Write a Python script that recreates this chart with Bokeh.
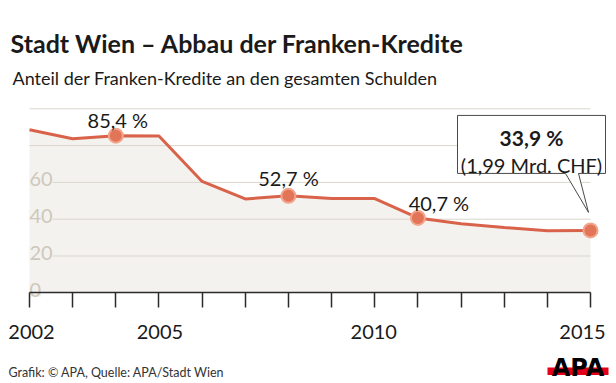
from bokeh.plotting import figure
from bokeh.models import Range1d, FixedTicker, LinearAxis
from bokeh.embed import file_html
from bokeh.resources import INLINE
from bokeh.core.properties import value

# ---------------- data ----------------
years = [2002, 2003, 2004, 2005, 2006, 2007, 2008, 2009, 2010, 2011, 2012, 2013, 2014, 2015]
share = [88.6, 83.7, 85.4, 85.2, 60.5, 51.0, 52.7, 51.2, 51.2, 40.7, 37.5, 35.5, 33.7, 33.9]
highlight_years = [2004, 2008, 2011]
highlight_labels = ["85,4 %", "52,7 %", "40,7 %"]
callout_year = 2015
callout_lines = ["33,9 %", "(1,99 Mrd. CHF)"]
grid_values = [20, 40, 60, 80, 100]
y_label_values = [0, 20, 40, 60]
x_label_years = [2002, 2005, 2010, 2015]
title_text = "Stadt Wien – Abbau der Franken-Kredite"
subtitle_text = "Anteil der Franken-Kredite an den gesamten Schulden"
footer_text = "Grafik: © APA, Quelle: APA/Stadt Wien"
logo_text = "APA"

# ---------------- layout / style ----------------
FONT = "Lato"
W, H = 616, 383
X0_PX, X1_PX = 29.0, 590.0          # pixel positions of first / last year
Y0_PX, Y100_PX = 292.3, 108.3       # pixel positions of 0 and 100
PX_X = (X1_PX - X0_PX) / (years[-1] - years[0])
PX_Y = (Y0_PX - Y100_PX) / 100.0


def X(px):
    return years[0] + (px - X0_PX) / PX_X


def Y(py):
    return (Y0_PX - py) / PX_Y


TEXT = "#1a1a1a"
LINE = "#d9634a"
AREA = "#f4f2ee"
GRID = "#dad6cc"
YLAB = "#cdc8bc"

val = dict(zip(years, share))

p = figure(width=W, height=H, x_range=Range1d(X(0), X(W)), y_range=Range1d(Y(H), Y(0)),
           output_backend="svg", toolbar_location=None, min_border=0,
           x_axis_location=None, y_axis_location=None, outline_line_color=None,
           background_fill_color="white", border_fill_color="white")
p.grid.visible = False

# header
p.text(x=[X(10)], y=[Y(42)], text=[title_text], text_font=value(FONT), text_font_style="bold",
       text_font_size="25px", text_color=TEXT, text_baseline="alphabetic", text_align="left")
p.text(x=[X(12)], y=[Y(77)], text=[subtitle_text], text_font=value(FONT),
       text_font_size="18px", text_color=TEXT, text_baseline="alphabetic", text_align="left")

# area, grid, y labels
p.varea(x=years, y1=[0] * len(years), y2=share, fill_color=AREA)
p.segment(x0=[years[0]] * len(grid_values), x1=[years[-1]] * len(grid_values),
          y0=grid_values, y1=grid_values, line_color=GRID, line_width=1)
p.text(x=[years[0]] * len(y_label_values), y=[v + 3 / PX_Y for v in y_label_values],
       text=[str(v) for v in y_label_values], text_font=value(FONT), text_font_size="20px",
       text_color=YLAB, text_baseline="alphabetic", text_align="left",
       background_fill_color=AREA)

# x axis (real axis, fixed at 0)
ax = LinearAxis(fixed_location=0, bounds=(years[0], years[-1]))
ax.ticker = FixedTicker(ticks=years)
ax.major_tick_out = 15
ax.major_tick_in = 0
ax.minor_tick_out = 0
ax.minor_tick_in = 0
ax.axis_line_color = "#2b2b2b"
ax.axis_line_width = 1.5
ax.major_tick_line_color = "#2b2b2b"
ax.major_tick_line_width = 1.5
ax.major_label_overrides = {y: "" for y in years}
p.add_layout(ax, "below")

lab_dx = [2, 1, -1, -8]
p.text(x=[y + d / PX_X for y, d in zip(x_label_years, lab_dx)], y=[Y(331)] * len(x_label_years),
       text=[str(y) for y in x_label_years], text_font=value(FONT), text_font_size="20px",
       text_color=TEXT, text_baseline="alphabetic", text_align="center")

# line + markers
p.line(years, share, line_color=LINE, line_width=3)
mk_years = highlight_years + [callout_year]
p.scatter(mk_years, [val[y] for y in mk_years], size=14, fill_color="#e27558",
          line_color="#f2a48c", line_width=2)

lab_dx_px = [2, 0, 21]
lab_dy_px = [16, 18, 15]
p.text(x=[y + dx / PX_X for y, dx in zip(highlight_years, lab_dx_px)],
       y=[val[y] + dy / PX_Y for y, dy in zip(highlight_years, lab_dy_px)],
       text=highlight_labels, text_font=value(FONT), text_font_size="20px",
       text_color=TEXT, text_baseline="alphabetic", text_align="center")

# callout box with pointer, placed relative to the last point (pixel offsets)
cx, cy = callout_year, val[callout_year]
bx0, bx1, by0, by1 = -133, 15, 115, 57      # left, right, top(up), bottom(up) in px
pb0, pb1, tipx, tipy = -25, -12, -2, 18
poly_px = [(bx0, by0), (bx1, by0), (bx1, by1), (pb1, by1), (tipx, tipy), (pb0, by1), (bx0, by1)]
p.patch(x=[cx + a / PX_X for a, b in poly_px], y=[cy + b / PX_Y for a, b in poly_px],
        fill_color="white", line_color="#4a4a4a", line_width=1)
box_cx = cx + (bx0 + bx1) / 2 / PX_X
p.text(x=[box_cx], y=[cy + 92.5 / PX_Y], text=[callout_lines[0]], text_font=value(FONT),
       text_font_style="bold", text_font_size="21px", text_color=TEXT,
       text_baseline="alphabetic", text_align="center")
p.text(x=[box_cx], y=[cy + 65.5 / PX_Y], text=[callout_lines[1]], text_font=value(FONT),
       text_font_size="20px", text_color=TEXT, text_baseline="alphabetic", text_align="center")

# footer
p.text(x=[X(8)], y=[Y(372)], text=[footer_text], text_font=value(FONT), text_font_size="12.5px",
       text_color="#333333", text_baseline="alphabetic", text_align="left")
p.quad(left=[X(547)], right=[X(608)], bottom=[Y(374.5)], top=[Y(367)],
       fill_color="#e2001a", line_color=None)
p.text(x=[X(577.5)], y=[Y(367)], text=[logo_text], text_font=value("DejaVu Sans"),
       text_font_style="bold", text_font_size="24px", text_color="black",
       text_baseline="alphabetic", text_align="center")

open("out.html", "w").write(file_html(p, INLINE))
